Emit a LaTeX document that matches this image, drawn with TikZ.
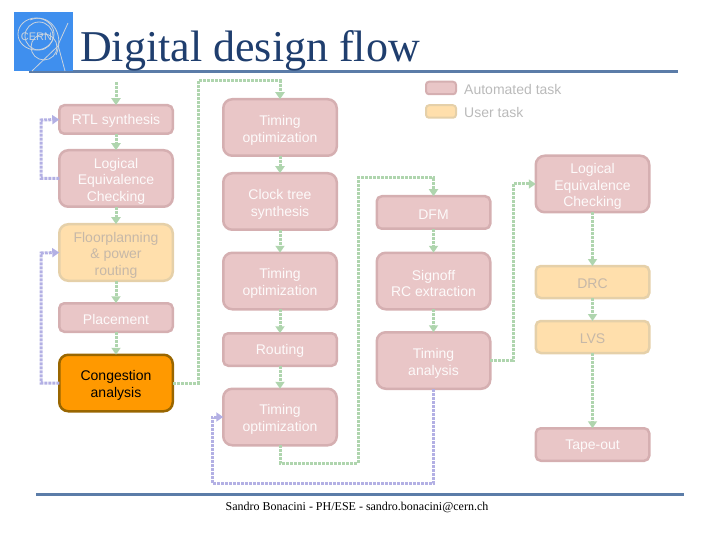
\documentclass[tikz,border=0pt]{standalone}
\usepackage{fontspec}
\setmainfont{Liberation Serif}
\setsansfont{Liberation Sans}
\usetikzlibrary{arrows.meta}
\definecolor{autofill}{HTML}{E9C6C7}
\definecolor{autoline}{HTML}{D5AFB1}
\definecolor{userfill}{HTML}{FFDFAC}
\definecolor{userline}{HTML}{E5D0A9}
\definecolor{usertext}{HTML}{C6B8A8}
\definecolor{flowgreen}{HTML}{AFD5AE}
\definecolor{flowblue}{HTML}{B3B0E4}
\definecolor{titleblue}{HTML}{1F3E6E}
\definecolor{rulecolor}{HTML}{5B7CA8}
\definecolor{cernblue}{HTML}{3F8FEE}
\definecolor{ringgrey}{HTML}{C9D3DE}
\definecolor{activeline}{HTML}{996600}
\definecolor{activefill}{HTML}{FF9900}
\newcommand{\firstline}{\rule{0pt}{15.5pt}}
\tikzset{
	task/.style={rounded corners=9pt, line width=2.5pt, minimum width=113.5pt, minimum height=56.5pt, inner sep=0pt, outer sep=0pt, align=center, font=\sffamily\fontsize{14}{16.6}\selectfont},
	autotask/.style={task, draw=autoline, fill=autofill, text=white!92!autofill},
	usertask/.style={task, draw=userline, fill=userfill, text=usertext},
	activetask/.style={task, draw=activeline, fill=activefill, text=black},
	lowtask/.style={minimum height=#1, rounded corners=5pt, execute at begin node={\rule{0pt}{13.5pt}}},
	legendbox/.style={rounded corners=3pt, line width=2pt, minimum width=30pt, minimum height=12.5pt, inner sep=0pt, outer sep=0pt},
	legendtext/.style={anchor=west, inner sep=0pt, text=black!27, font=\sffamily\fontsize{14}{16}\selectfont},
	flow/.style={line width=3pt, dash pattern=on 3pt off 1pt, -{Triangle[length=7pt,width=9pt]}},
	goflow/.style={flow, draw=flowgreen, color=flowgreen},
	backflow/.style={flow, draw=flowblue, color=flowblue},
}
\begin{document}
\begin{tikzpicture}[x=1pt,y=-1pt]
	\useasboundingbox (0,0) rectangle (720,540);
	% title and rules
	\fill[rulecolor] (29,69.7) rectangle (678,72.7);
	\fill[rulecolor] (36,493) rectangle (684,496);
	\node[anchor=base west, inner sep=0pt, text=titleblue, font=\fontsize{44}{48}\selectfont] (title) at (80,62) {Digital design flow};
	\node[font=\fontsize{12}{14}\selectfont, inner sep=0pt] (footer) at (357,507) {Sandro Bonacini - PH/ESE - sandro.bonacini@cern.ch};
	% logo
	\fill[cernblue] (13.5,11.7) rectangle (72.7,70.7);
	\begin{scope}[draw=ringgrey, line width=0.8pt]
		\draw (36,34) ellipse (18 and 16);
		\draw (39,36) circle (14);
		\draw (44,47) circle (13);
		\draw (30,20) .. controls (48,12) and (66,32) .. (56,55);
		\draw (32,71) -- (59,45);
		\draw (65,71) -- (58,45) -- (68,23);
	\end{scope}
	\node[text=ringgrey, inner sep=0pt, font=\sffamily\fontsize{11}{11}\selectfont] (cern) at (36.5,36.5) {CERN};
	% legend
	\node[legendbox, draw=autoline, fill=autofill] (L-1) at (441,88) {};
	\node[legendbox, draw=userline, fill=userfill] (L-2) at (441,111.5) {};
	\node[legendtext] (LT-1) at (464,89) {Automated task};
	\node[legendtext] (LT-2) at (464,112) {User task};
	% first column
	\node[autotask, lowtask=28.5pt] (rtl) at (116,119.5) {RTL synthesis};
	\node[autotask] (lec) at (116,178.5) {\firstline Logical\\Equivalence\\Checking};
	\node[usertask] (floor) at (116,252.5) {\firstline Floorplanning\\\& power\\routing};
	\node[autotask, lowtask=28.5pt] (place) at (116,317.5) {Placement};
	\node[activetask] (cong) at (116,383) {\firstline Congestion\\analysis};
	% second column
	\node[autotask] (opt-1) at (280,127.5) {\firstline Timing\\optimization};
	\node[autotask] (cts) at (280,201.5) {\firstline Clock tree\\synthesis};
	\node[autotask] (opt-2) at (280,281) {\firstline Timing\\optimization};
	\node[autotask, lowtask=32.5pt] (route) at (280,349.5) {Routing};
	\node[autotask] (opt-3) at (280,417) {\firstline Timing\\optimization};
	% third column
	\node[autotask, lowtask=32.5pt] (dfm) at (433.5,212.5) {DFM};
	\node[autotask] (rcx) at (433.5,281) {\firstline Signoff\\RC extraction};
	\node[autotask] (sta) at (433.5,360.5) {\firstline Timing\\analysis};
	% fourth column
	\node[autotask] (lec_) at (592.5,184) {\firstline Logical\\Equivalence\\Checking};
	\node[usertask, lowtask=32pt] (drc) at (592.5,282) {DRC};
	\node[usertask, lowtask=32pt] (lvs) at (592.5,337) {LVS};
	\node[autotask, lowtask=32.5pt] (tape) at (592.5,444.5) {Tape-out};
	% corners of the long connectors
	\coordinate (start) at (116,82);
	\coordinate (C-1) at (198,81);
	\coordinate (C-2) at (358,463);
	\coordinate (C-3) at (358,178);
	\coordinate (C-4) at (513,184);
	\coordinate (B-1) at (41,120);
	\coordinate (B-2) at (41,253);
	\coordinate (B-3) at (212,483);
	% straight steps
	\foreach \a/\b in {rtl/lec,lec/floor,floor/place,place/cong,opt-1/cts,cts/opt-2,opt-2/route,route/opt-3,dfm/rcx,rcx/sta,lec_/drc,drc/lvs,lvs/tape}{
		\draw[goflow] (\a.south) -- (\b.north);
	}
	\draw[goflow] (start) -- (rtl.north);
	\draw[goflow] (cong.east) -| (C-1) -| (opt-1.north);
	\draw[goflow] (opt-3.south) |- (C-2) -- (C-3) -| (dfm.north);
	\draw[goflow] (sta.east) -| (C-4) -- (lec_.west);
	% loops back
	\draw[backflow] (lec.west) -| (B-1) -- (rtl.west);
	\draw[backflow] (cong.west) -| (B-2) -- (floor.west);
	\draw[backflow] (sta.south) |- (B-3) |- (opt-3.west);
\end{tikzpicture}
\end{document}
